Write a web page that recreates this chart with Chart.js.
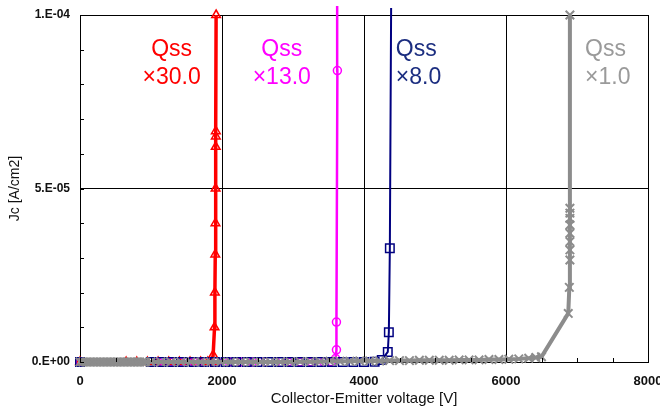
<!DOCTYPE html>
<html>
<head>
<meta charset="utf-8">
<script src="https://cdn.jsdelivr.net/npm/chart.js@4.4.1/dist/chart.umd.min.js"></script>
<style>
html,body{margin:0;padding:0;background:#fff;}
canvas{display:block;}
</style>
</head>
<body>
<canvas id="c" width="660" height="408"></canvas>
<script>
// ---------- data ----------
// Qss x30.0 (red, triangles)
const redV = [0, 650, 800, 950, 1100, 1250, 1400, 1550, 1700, 1800, 1860, 1875, 1895, 1900, 1905, 1908, 1910, 1912, 1913, 1913, 1917];
const redJ = [0, 0, 0, 0, 0, 0, 0, 0, 0, 0, 0, 2e-6, 1.0e-5, 2.0e-5, 3.1e-5, 4.0e-5, 5.0e-5, 6.2e-5, 6.5e-5, 6.65e-5, 1.0e-4];
// Qss x13.0 (magenta, circles)
const magV = [0, 1100, 1270, 1430, 1600, 1760, 1930, 2100, 2260, 2430, 2600, 2760, 2930, 3100, 3260, 3430, 3540, 3600, 3612, 3612, 3625, 3622];
const magJ = [0, 0, 0, 0, 0, 0, 0, 0, 0, 0, 0, 0, 0, 0, 0, 0, 1e-7, 1e-6, 3.5e-6, 1.15e-5, 8.4e-5, 1.026e-4];
// Qss x8.0 (navy, squares)
const blueV = [0, 1000, 1150, 1300, 1450, 1600, 1750, 1900, 2050, 2200, 2350, 2500, 2650, 2800, 2950, 3100, 3250, 3400, 3550, 3700, 3850, 4000, 4150, 4250, 4335, 4350, 4364, 4382];
const blueJ = [0, 0, 0, 0, 0, 0, 0, 0, 0, 0, 0, 0, 0, 0, 0, 0, 0, 0, 0, 0, 0, 0, 1e-7, 6e-7, 2.9e-6, 8.6e-6, 3.28e-5, 1.02e-4];
// Qss x1.0 (grey, x marks)
const greyV = [0, 40, 80, 120, 160, 200, 240, 280, 320, 360, 400, 440, 480, 520, 560, 600, 640, 680, 720, 760, 800, 840, 880, 920,
  1000, 1140, 1280, 1420, 1560, 1700, 1840, 1980, 2120, 2260, 2400, 2540, 2680, 2820, 2960,
  3100, 3240, 3380, 3520, 3660, 3800, 3940, 4080, 4220, 4360, 4500, 4640, 4780, 4920, 5060, 5200, 5340, 5480, 5620, 5760, 5900, 6040, 6180, 6320,
  6420, 6500, 6877, 6892, 6900, 6900, 6900, 6900, 6900, 6900, 6900, 6900, 6900];
const greyJ = [0, 0, 0, 0, 0, 0, 0, 0, 0, 0, 0, 0, 0, 0, 0, 0, 0, 0, 0, 0, 0, 0, 0, 0,
  0, 0, 0, 0, 0, 0, 0, 0, 0, 0, 0, 0, 0, 0, 0,
  1e-7, 1e-7, 1e-7, 2e-7, 2e-7, 2e-7, 3e-7, 3e-7, 3e-7, 4e-7, 4e-7, 4e-7, 5e-7, 5e-7, 5e-7, 5e-7, 6e-7, 6e-7, 6e-7, 7e-7, 7e-7, 8e-7, 9e-7, 1.1e-6,
  1.3e-6, 1.5e-6, 1.4e-5, 2.15e-5, 2.94e-5, 3.23e-5, 3.47e-5, 3.71e-5, 3.95e-5, 4.14e-5, 4.29e-5, 4.43e-5, 1.0e-4];

// ticks
const xTickValues = [0, 500, 1000, 1500, 2000, 2500, 3000, 3500, 4000, 4500, 5000, 5500, 6000, 6500, 7000, 7500, 8000];
const xLabelValues = [0, 2000, 4000, 6000, 8000];
const yTickValues = [0, 1e-5, 2e-5, 3e-5, 4e-5, 5e-5, 6e-5, 7e-5, 8e-5, 9e-5, 1e-4];
const yTickLabels = ['0.E+00', '', '', '', '', '5.E-05', '', '', '', '', '1.E-04'];

// series labels
const seriesNames = ['Qss ×30.0', 'Qss ×13.0', 'Qss ×8.0', 'Qss ×1.0'];

// ---------- presentation ----------
const FONT = '"Liberation Sans", Arial, sans-serif';
const toPts = (xs, ys) => xs.map((v, i) => ({x: v, y: ys[i]}));
const hideAbove = (r) => (ctx) => (ctx.raw && ctx.raw.y > 1.0001e-4) ? 0 : r;

const annotations = [
  {lines: ['Qss', '×30.0'], x: 1290, y: 8.99e-5, color: '#ff0000', align: 'center'},
  {lines: ['Qss', '×13.0'], x: 2842, y: 8.99e-5, color: '#ff00ff', align: 'center'},
  {lines: ['Qss', '×8.0'],  x: 4448, y: 8.99e-5, color: '#1c2e80', align: 'left'},
  {lines: ['Qss', '×1.0'],  x: 7113, y: 8.99e-5, color: '#9a9a9a', align: 'left'}
];

const extras = {
  id: 'extras',
  afterDraw(chart) {
    const {ctx, chartArea: a, scales: {x, y}} = chart;
    ctx.save();
    // inner minor ticks
    ctx.strokeStyle = '#000';
    ctx.lineWidth = 1;
    ctx.beginPath();
    xTickValues.forEach(v => {
      const px = Math.round(x.getPixelForValue(v)) + 0.5;
      ctx.moveTo(px, a.bottom); ctx.lineTo(px, a.bottom - 4);
    });
    yTickValues.forEach(v => {
      const py = Math.round(y.getPixelForValue(v)) + 0.5;
      ctx.moveTo(a.left, py); ctx.lineTo(a.left + 4, py);
    });
    ctx.stroke();
    // series labels
    ctx.font = '23px ' + FONT;
    ctx.textBaseline = 'middle';
    annotations.forEach(an => {
      ctx.fillStyle = an.color;
      ctx.textAlign = an.align;
      const px = x.getPixelForValue(an.x);
      const py = y.getPixelForValue(an.y);
      an.lines.forEach((t, i) => ctx.fillText(t, px, py + i * 28));
    });
    ctx.restore();
  }
};

new Chart(document.getElementById('c'), {
  type: 'scatter',
  data: {
    datasets: [
      {label: seriesNames[3], data: toPts(greyV, greyJ), showLine: true, borderColor: '#8c8c8c', borderWidth: 4,
       pointStyle: 'crossRot', pointRadius: hideAbove(6), pointBorderWidth: 2, pointBorderColor: '#8c8c8c', pointBackgroundColor: '#8c8c8c', clip: 12, order: 0},
      {label: seriesNames[2], data: toPts(blueV, blueJ), showLine: true, borderColor: '#000080', borderWidth: 2,
       pointStyle: 'rect', pointRadius: hideAbove(6), pointBorderWidth: 1.5, pointBorderColor: '#000080', pointBackgroundColor: 'rgba(255,255,255,0)', clip: 12, order: 1},
      {label: seriesNames[1], data: toPts(magV, magJ), showLine: true, borderColor: '#ff00ff', borderWidth: 2.5,
       pointStyle: 'circle', pointRadius: hideAbove(4), pointBorderWidth: 1.5, pointBorderColor: '#ff00ff', pointBackgroundColor: 'rgba(255,255,255,0)', clip: 12, order: 2},
      {label: seriesNames[0], data: toPts(redV, redJ), showLine: true, borderColor: '#ff0000', borderWidth: 3.5,
       pointStyle: 'triangle', pointRadius: hideAbove(5), pointBorderWidth: 1.5, pointBorderColor: '#ff0000', pointBackgroundColor: 'rgba(255,255,255,0)', clip: 12, order: 3}
    ]
  },
  options: {
    responsive: false,
    animation: false,
    devicePixelRatio: 1,
    layout: {padding: {left: 0, right: 12, top: 15, bottom: 0}, autoPadding: false},
    plugins: {legend: {display: false}, tooltip: {enabled: false}},
    elements: {line: {tension: 0}},
    scales: {
      x: {
        type: 'linear', min: 0, max: 8000,
        afterBuildTicks: (s) => { s.ticks = xTickValues.map(v => ({value: v})); },
        afterFit: (s) => { s.height = 46; s.paddingLeft = 0; s.paddingRight = 0; },
        ticks: {
          padding: 12, color: '#111', maxRotation: 0, autoSkip: false,
          font: {family: FONT, size: 13, weight: 'bold'},
          callback: (v) => xLabelValues.includes(v) ? String(v) : ''
        },
        grid: {drawTicks: false, lineWidth: 1,
          color: (c) => (c.tick && xLabelValues.includes(c.tick.value) && c.tick.value !== 0) ? '#000' : 'rgba(0,0,0,0)'},
        border: {display: true, color: '#000', width: 1},
        title: {display: true, text: 'Collector-Emitter voltage [V]', color: '#111',
          font: {family: FONT, size: 15}, padding: {top: 0, bottom: 0}}
      },
      y: {
        type: 'linear', min: 0, max: 1e-4,
        afterBuildTicks: (s) => { s.ticks = yTickValues.map(v => ({value: v})); },
        afterFit: (s) => { s.width = 80; s.paddingTop = 0; s.paddingBottom = 0; },
        ticks: {
          padding: 10, color: '#111', autoSkip: false,
          font: {family: FONT, size: 12, weight: 'bold'},
          callback: (v, i) => yTickLabels[i]
        },
        grid: {drawTicks: false, lineWidth: 1,
          color: (c) => (c.index === 5 || c.index === 10) ? '#000' : 'rgba(0,0,0,0)'},
        border: {display: true, color: '#000', width: 1},
        title: {display: true, text: 'Jc [A/cm2]', color: '#111',
          font: {family: FONT, size: 14}, padding: {top: 7, bottom: 0}}
      }
    }
  },
  plugins: [extras]
});
</script>
</body>
</html>
